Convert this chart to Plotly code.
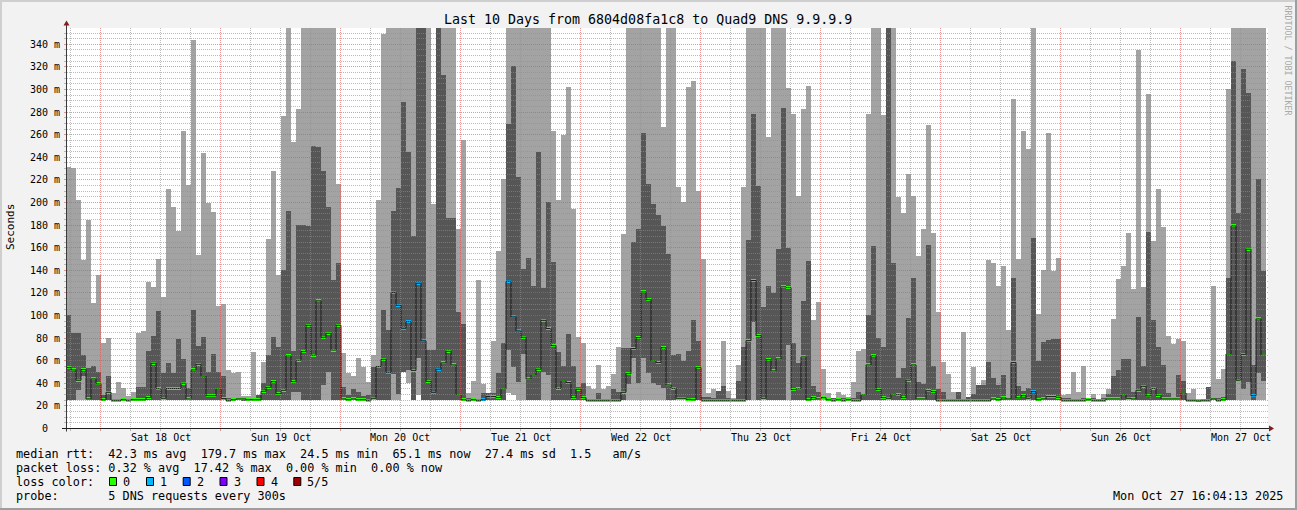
import plotly.graph_objects as go
from datetime import datetime, timedelta

# ---------------- data (hourly consolidated, 5 pings / 300 s) ----------------
START = datetime(2025, 10, 17, 17, 0)

max_rtt = [
    231.4, 229.9, 201.9, 148.8, 184.2, 110.4, 135.5, 75.0, 79.4, 30.7,
    41.0, 35.1, 28.6, 32.2, 83.8, 85.9, 129.6, 125.1, 149.6, 116.3,
    211.6, 196.0, 174.4, 263.0, 215.2, 343.5, 153.2, 243.8, 199.5, 191.5,
    108.0, 109.8, 51.4, 48.4, 49.9, 28.6, 28.6, 67.6, 28.6, 58.7,
    167.0, 227.5, 135.5, 276.2, 400, 253.5, 282.4, 400, 400, 400,
    400, 400, 400, 400, 216.0, 66.1, 49.0, 46.4, 62.3, 54.3,
    41.0, 64.6, 201.9, 348.8, 400, 400, 400, 400, 400, 400,
    400, 400, 400, 198.3, 400, 400, 400, 400, 176.2, 255.0,
    30.7, 41.6, 131.0, 39.0, 30.7, 77.0, 156.7, 220.5, 400, 400,
    400, 400, 400, 400, 400, 400, 400, 263.0, 201.9, 259.4,
    302.2, 193.9, 80.9, 75.6, 37.2, 34.3, 55.8, 34.3, 37.2, 47.8,
    71.4, 171.8, 400, 400, 400, 400, 400, 400, 400, 266.8,
    400, 400, 213.7, 200.4, 302.2, 307.2, 210.1, 149.6, 30.7, 34.6,
    30.7, 77.0, 32.8, 26.3, 55.8, 213.1, 400, 400, 400, 400,
    257.1, 400, 400, 400, 301.3, 277.7, 205.4, 282.4, 302.8, 95.6,
    111.3, 52.3, 30.7, 26.3, 32.2, 29.2, 27.8, 40.4, 68.2, 70.0,
    278.0, 400, 400, 277.1, 400, 400, 204.0, 190.7, 224.9, 205.4,
    152.6, 176.2, 268.3, 173.0, 103.0, 58.7, 47.8, 32.2, 28.6, 85.3,
    27.8, 53.7, 29.8, 42.5, 148.8, 146.4, 125.7, 143.7, 86.8, 291.3,
    149.6, 263.0, 247.0, 400, 100.9, 139.9, 260.9, 139.3, 150.8, 29.2,
    29.8, 49.9, 32.2, 55.2, 26.3, 29.8, 24.5, 29.8, 34.3, 96.5,
    132.0, 143.7, 173.0, 123.1, 334.1, 125.2, 295.7, 165.6, 211.6, 178.3,
    81.5, 74.4, 78.8, 77.0, 30.7, 34.6, 24.5, 24.5, 36.6, 126.0,
    43.4, 52.3, 300.1, 400, 400, 400, 400, 400, 400, 400,
]

upper_rtt = [
    100.1, 83.8, 83.8, 64.7, 52.9, 54.9, 49.9, 29.2, 46.1, 24.5,
    24.5, 24.5, 24.5, 24.5, 36.0, 36.0, 68.2, 81.5, 103.6, 48.4,
    57.3, 48.4, 78.8, 60.8, 35.7, 104.5, 72.6, 80.3, 49.9, 65.2,
    49.9, 46.4, 26.9, 26.9, 26.9, 25.7, 25.7, 26.9, 29.2, 39.6,
    64.6, 80.3, 72.0, 139.9, 192.4, 68.2, 179.7, 179.7, 179.1, 250.0,
    248.5, 227.8, 196.0, 131.0, 146.1, 36.6, 29.2, 34.6, 32.2, 28.6,
    29.2, 54.3, 54.3, 104.5, 86.8, 192.4, 212.2, 288.3, 244.7, 170.3,
    400, 400, 69.1, 69.1, 400, 312.5, 186.2, 186.2, 102.4, 92.1,
    26.9, 26.3, 24.5, 30.7, 30.7, 30.7, 49.0, 75.0, 269.2, 320.5,
    222.0, 140.8, 150.2, 125.7, 244.4, 123.7, 200.4, 146.7, 67.0, 55.2,
    82.9, 54.9, 36.6, 39.6, 24.5, 24.5, 30.7, 24.5, 24.5, 34.3,
    32.2, 70.6, 70.6, 165.0, 176.2, 260.9, 216.0, 198.3, 188.6, 178.9,
    154.1, 64.6, 65.5, 59.6, 68.2, 95.6, 77.0, 27.8, 27.8, 26.9,
    32.8, 37.2, 26.3, 24.5, 41.6, 71.4, 166.5, 278.0, 214.3, 106.9,
    125.7, 119.8, 158.5, 283.0, 159.7, 75.6, 57.3, 112.5, 147.9, 37.2,
    32.2, 24.5, 26.3, 26.3, 26.3, 26.3, 26.3, 26.3, 32.2, 29.2,
    100.1, 161.4, 79.4, 72.0, 400, 146.4, 44.6, 53.4, 97.7, 133.1,
    41.0, 38.7, 162.0, 55.2, 34.6, 32.2, 24.5, 24.5, 32.2, 24.5,
    27.0, 29.8, 38.1, 38.1, 58.7, 44.6, 38.1, 47.0, 24.5, 133.1,
    37.5, 32.8, 35.1, 168.5, 59.6, 76.5, 77.9, 78.8, 78.8, 26.9,
    26.3, 25.7, 24.5, 26.3, 24.5, 26.9, 24.5, 26.9, 29.8, 46.1,
    51.4, 61.1, 60.8, 32.2, 98.0, 54.9, 173.3, 95.6, 71.4, 55.8,
    30.7, 26.9, 47.0, 41.6, 24.5, 24.5, 24.5, 24.5, 36.6, 26.9,
    26.3, 27.8, 133.1, 324.9, 190.7, 317.8, 296.3, 55.8, 220.5, 139.0,
]

lower_rtt = [
    24.5, 24.5, 33.6, 46.1, 24.5, 24.5, 24.5, 24.5, 24.5, 24.5,
    24.5, 24.5, 24.5, 24.5, 24.5, 24.5, 24.5, 24.5, 24.5, 24.5,
    24.5, 24.5, 24.5, 24.5, 24.5, 24.5, 24.5, 24.5, 24.5, 24.5,
    24.5, 24.5, 24.5, 24.5, 24.5, 24.5, 24.5, 24.5, 24.5, 24.5,
    24.5, 24.5, 24.5, 24.5, 24.5, 32.0, 32.0, 24.5, 24.5, 24.5,
    24.5, 38.0, 50.0, 24.5, 24.5, 24.5, 24.5, 24.5, 24.5, 24.5,
    24.5, 24.5, 24.5, 24.5, 24.5, 47.8, 30.0, 50.0, 51.4, 24.5,
    61.7, 24.5, 24.5, 24.5, 24.5, 24.5, 24.5, 24.5, 24.5, 24.5,
    24.5, 24.5, 24.5, 24.5, 24.5, 24.5, 24.5, 24.5, 69.1, 54.3,
    41.0, 65.2, 24.5, 24.5, 24.5, 50.0, 47.0, 24.5, 24.5, 24.5,
    24.5, 24.5, 24.5, 24.5, 24.5, 24.5, 24.5, 24.5, 24.5, 24.5,
    24.5, 24.5, 38.7, 61.7, 39.6, 61.7, 48.4, 39.6, 38.0, 35.0,
    24.5, 24.5, 24.5, 24.5, 24.5, 24.5, 24.5, 24.5, 24.5, 24.5,
    24.5, 24.5, 24.5, 24.5, 24.5, 24.5, 24.5, 94.2, 24.5, 24.5,
    24.5, 24.5, 24.5, 24.5, 73.5, 24.5, 24.5, 24.5, 24.5, 24.5,
    24.5, 24.5, 24.5, 24.5, 24.5, 24.5, 24.5, 24.5, 24.5, 24.5,
    24.5, 24.5, 24.5, 24.5, 24.5, 24.5, 24.5, 24.5, 24.5, 24.5,
    24.5, 24.5, 24.5, 24.5, 24.5, 24.5, 24.5, 24.5, 24.5, 24.5,
    24.5, 24.5, 24.5, 24.5, 24.5, 24.5, 24.5, 24.5, 24.5, 24.5,
    24.5, 24.5, 24.5, 24.5, 24.5, 24.5, 24.5, 24.5, 24.5, 24.5,
    24.5, 24.5, 24.5, 24.5, 24.5, 24.5, 24.5, 24.5, 24.5, 24.5,
    24.5, 24.5, 24.5, 24.5, 24.5, 24.5, 24.5, 24.5, 24.5, 24.5,
    24.5, 24.5, 24.5, 24.5, 24.5, 24.5, 24.5, 24.5, 24.5, 24.5,
    24.5, 24.5, 24.5, 24.5, 41.6, 34.3, 41.0, 24.5, 49.0, 41.6,
]

min_rtt = [
    24.5, 24.5, 24.5, 24.5, 24.5, 24.5, 24.5, 24.5, 24.5, 24.5,
    24.5, 24.5, 24.5, 24.5, 24.5, 24.5, 24.5, 24.5, 24.5, 24.5,
    24.5, 24.5, 24.5, 24.5, 24.5, 24.5, 24.5, 24.5, 24.5, 24.5,
    24.5, 24.5, 24.5, 24.5, 24.5, 24.5, 24.5, 24.5, 24.5, 24.5,
    24.5, 24.5, 24.5, 24.5, 24.5, 24.5, 24.5, 24.5, 24.5, 24.5,
    24.5, 24.5, 24.5, 24.5, 24.5, 24.5, 24.5, 24.5, 24.5, 24.5,
    24.5, 24.5, 24.5, 24.5, 24.5, 24.5, 24.5, 50.0, 39.5, 24.5,
    29.2, 24.5, 24.5, 24.5, 24.5, 24.5, 24.5, 24.5, 24.5, 24.5,
    24.5, 24.5, 24.5, 24.5, 24.5, 24.5, 24.5, 24.5, 30.7, 29.5,
    24.5, 24.5, 24.5, 24.5, 24.5, 24.5, 24.5, 24.5, 24.5, 24.5,
    24.5, 24.5, 24.5, 24.5, 24.5, 24.5, 24.5, 24.5, 24.5, 24.5,
    24.5, 24.5, 24.5, 24.5, 24.5, 24.5, 24.5, 24.5, 24.5, 24.5,
    24.5, 24.5, 24.5, 24.5, 24.5, 24.5, 24.5, 24.5, 24.5, 24.5,
    24.5, 24.5, 24.5, 24.5, 24.5, 24.5, 24.5, 24.5, 24.5, 24.5,
    24.5, 24.5, 24.5, 24.5, 24.5, 24.5, 24.5, 24.5, 24.5, 24.5,
    24.5, 24.5, 24.5, 24.5, 24.5, 24.5, 24.5, 24.5, 24.5, 24.5,
    24.5, 24.5, 24.5, 24.5, 24.5, 24.5, 24.5, 24.5, 24.5, 24.5,
    24.5, 24.5, 24.5, 24.5, 24.5, 24.5, 24.5, 24.5, 24.5, 24.5,
    24.5, 24.5, 24.5, 24.5, 24.5, 24.5, 24.5, 24.5, 24.5, 24.5,
    24.5, 24.5, 24.5, 24.5, 24.5, 24.5, 24.5, 24.5, 24.5, 24.5,
    24.5, 24.5, 24.5, 24.5, 24.5, 24.5, 24.5, 24.5, 24.5, 24.5,
    24.5, 24.5, 24.5, 24.5, 24.5, 24.5, 24.5, 24.5, 24.5, 24.5,
    24.5, 24.5, 24.5, 24.5, 24.5, 24.5, 24.5, 24.5, 24.5, 24.5,
    24.5, 24.5, 24.5, 24.5, 24.5, 24.5, 24.5, 24.5, 24.5, 24.5,
]

median_rtt = [
    53.4, 51.4, 42.3, 51.7, 25.7, 43.4, 39.0, 25.0, 31.6, 24.5,
    24.5, 25.0, 24.5, 25.0, 25.0, 25.0, 27.0, 57.3, 34.8, 26.3,
    35.0, 35.0, 35.0, 39.6, 25.7, 51.4, 56.4, 46.0, 28.6, 28.6,
    34.5, 26.0, 24.5, 25.0, 25.7, 25.7, 25.0, 25.0, 25.0, 32.5,
    36.0, 41.0, 30.4, 33.4, 63.8, 41.0, 60.0, 67.6, 90.9, 64.4,
    112.5, 80.3, 83.8, 69.0, 90.9, 25.7, 25.0, 25.7, 25.0, 25.0,
    24.5, 26.3, 54.3, 60.8, 49.3, 120.0, 108.6, 88.3, 94.2, 51.0,
    128.1, 77.1, 41.3, 31.6, 52.0, 57.6, 67.9, 55.8, 29.2, 25.0,
    24.5, 25.0, 24.5, 25.0, 27.8, 27.8, 26.9, 34.5, 129.9, 98.3,
    85.9, 80.3, 43.4, 46.9, 52.0, 95.3, 88.0, 72.9, 35.1, 41.6,
    40.2, 26.9, 34.3, 26.9, 24.5, 24.5, 24.5, 24.5, 24.5, 24.5,
    24.5, 31.6, 48.1, 70.3, 80.0, 120.4, 113.6, 59.3, 57.9, 71.1,
    38.1, 35.1, 26.3, 26.3, 25.4, 25.0, 53.4, 24.5, 24.5, 24.5,
    24.5, 24.5, 24.5, 24.5, 24.5, 24.5, 77.3, 130.5, 81.8, 26.3,
    60.5, 50.5, 61.1, 124.9, 124.3, 34.0, 34.6, 62.9, 25.0, 26.9,
    25.7, 26.9, 25.0, 24.5, 25.0, 24.5, 25.0, 24.5, 24.5, 29.2,
    55.8, 64.0, 34.0, 26.9, 26.3, 30.1, 29.5, 26.9, 42.3, 55.8,
    25.7, 25.7, 33.0, 32.2, 24.5, 24.5, 24.5, 24.5, 24.5, 24.5,
    24.5, 24.5, 24.5, 24.5, 24.5, 25.7, 25.0, 26.6, 25.7, 57.9,
    26.6, 28.6, 26.3, 32.2, 25.0, 25.7, 27.8, 27.8, 27.2, 24.5,
    24.5, 24.5, 24.5, 24.5, 25.0, 24.5, 24.5, 24.5, 25.7, 25.7,
    25.7, 29.2, 26.3, 25.7, 33.4, 36.9, 28.4, 35.1, 28.9, 25.7,
    25.7, 25.7, 25.7, 31.0, 24.5, 24.5, 24.0, 24.5, 24.5, 25.7,
    24.5, 25.0, 65.5, 178.9, 42.3, 65.2, 158.2, 28.6, 96.5, 64.6,
]

loss_count = [
    0, 0, 0, 0, 0, 0, 0, 0, 0, 0, 0, 0, 0, 0, 0, 0, 0, 0, 0, 0,
    0, 0, 0, 0, 0, 0, 0, 0, 0, 0, 0, 0, 0, 0, 0, 0, 0, 0, 0, 0,
    0, 0, 0, 0, 0, 0, 0, 0, 0, 0, 0, 0, 0, 0, 0, 0, 0, 0, 0, 0,
    0, 0, 0, 0, 1, 1, 1, 1, 1, 0, 1, 1, 0, 1, 1, 0, 0, 0, 0, 0,
    0, 0, 0, 1, 1, 0, 0, 0, 1, 1, 1, 0, 0, 0, 0, 0, 0, 0, 0, 0,
    0, 0, 0, 0, 0, 0, 0, 0, 0, 0, 0, 0, 0, 0, 0, 0, 0, 0, 0, 0,
    0, 0, 0, 0, 0, 0, 0, 0, 0, 0, 0, 0, 0, 0, 0, 0, 0, 0, 0, 0,
    0, 0, 0, 0, 0, 0, 0, 0, 0, 0, 0, 0, 0, 0, 0, 0, 0, 0, 0, 0,
    0, 0, 0, 0, 0, 0, 0, 0, 0, 0, 0, 0, 0, 0, 0, 0, 0, 0, 0, 0,
    0, 0, 0, 0, 0, 0, 0, 0, 0, 0, 0, 0, 0, 1, 0, 0, 0, 0, 0, 0,
    0, 0, 0, 0, 0, 0, 0, 0, 0, 0, 0, 0, 0, 0, 0, 0, 0, 0, 0, 0,
    0, 0, 0, 0, 0, 0, 0, 0, 0, 0, 0, 0, 0, 0, 0, 0, 0, 1, 0, 0,
]

day_labels = ["Sat 18 Oct", "Sun 19 Oct", "Mon 20 Oct", "Tue 21 Oct", "Wed 22 Oct",
              "Thu 23 Oct", "Fri 24 Oct", "Sat 25 Oct", "Sun 26 Oct", "Mon 27 Oct"]
y_tick_values = [0, 20, 40, 60, 80, 100, 120, 140, 160, 180, 200, 220, 240, 260, 280, 300, 320, 340]
y_tick_labels = ["0", "20 m", "40 m", "60 m", "80 m", "100 m", "120 m", "140 m", "160 m",
                 "180 m", "200 m", "220 m", "240 m", "260 m", "280 m", "300 m", "320 m", "340 m"]
loss_labels = ["0", "1", "2", "3", "4", "5/5"]
loss_colors = ["#26ff00", "#00b8ff", "#0059ff", "#7e00ff", "#ff0000", "#a10000"]

title_text = "Last 10 Days from 6804d08fa1c8 to Quad9 DNS 9.9.9.9"
legend_lines = [
    "median rtt:  42.3 ms avg  179.7 ms max  24.5 ms min  65.1 ms now  27.4 ms sd  1.5   am/s",
    "packet loss: 0.32 % avg  17.42 % max  0.00 % min  0.00 % now",
    "loss color:",
    "probe:       5 DNS requests every 300s",
]
stamp = "Mon Oct 27 16:04:13 2025"

# ---------------- geometry / style ----------------
W, H = 1297, 510
L, R, T, B = 66, 1268, 28, 428
YMAX = 354.0
HOURS_SPAN = (R - L) / 5.0
LIGHT, DARK = "#a3a3a3", "#565656"
MONO = "DejaVu Sans Mono"
GRID = "rgba(143,143,143,0.6)"
MGRID = "rgba(222,79,79,0.6)"
ARROW = "#801f1f"


def px(x):
    return (x - L) / (R - L)


def py(y):
    return (B - y) / (B - T)


def ypix(v):
    return B - v * (B - T) / YMAX


n = len(median_rtt)
starts = [START + timedelta(hours=i) for i in range(n)]
centers = [s + timedelta(minutes=30) for s in starts]
edges = starts + [starts[-1] + timedelta(hours=1)]
BW = 3600000

fig = go.Figure()
fig.add_bar(x=centers, y=[a - b for a, b in zip(max_rtt, min_rtt)], base=min_rtt, width=BW,
            marker=dict(color=LIGHT, line=dict(width=0)), hoverinfo="skip")
fig.add_bar(x=centers, y=[max(a - b, 0) for a, b in zip(upper_rtt, lower_rtt)], base=lower_rtt, width=BW,
            marker=dict(color=DARK, line=dict(width=0)), hoverinfo="skip")
fig.add_scatter(x=edges, y=median_rtt + [median_rtt[-1]], mode="lines",
                line=dict(color="#1a1a1a", width=1, shape="hv"), hoverinfo="skip")
MED_T = 2.6
fig.add_bar(x=centers, y=[MED_T] * n, base=[m - MED_T / 2 for m in median_rtt], width=BW,
            marker=dict(color=[loss_colors[c] for c in loss_count], line=dict(width=0)), hoverinfo="skip")

shapes = []


def line(x0, y0, x1, y1, color, width=1, dash=None):
    d = dict(type="line", xref="paper", yref="paper", x0=px(x0), y0=py(y0), x1=px(x1), y1=py(y1),
             line=dict(color=color, width=width), layer="above")
    if dash:
        d["line"]["dash"] = dash
    shapes.append(d)


# horizontal grid every 5 m, major every 20 m (dots aligned on whole pixels)
v = 5
while v < YMAX:
    yc = round(ypix(v)) + 0.5
    col = MGRID if v % 20 == 0 else GRID
    line(L + 1, yc, R, yc, col, 1, "1px,1px")
    line(L - 2, yc, L, yc, col, 1)
    v += 5

# vertical grid every 6 h, major at midnight
h = 1
while h < HOURS_SPAN:
    xc = L + 5 * h - 0.5
    t = START + timedelta(hours=h)
    col = MGRID if t.hour == 0 else GRID
    line(xc, T, xc, B, col, 1, "1px,1px")
    line(xc, B + 1, xc, B + 3, col, 1)
    h += 6

# axes
line(L + 0.5, B + 3.5, L + 0.5, 24.5, "#3a3a3a", 1)
line(L - 4, B + 0.5, R + 1, B + 0.5, "#1f1f1f", 1)
shapes.append(dict(type="path", xref="paper", yref="paper", layer="above",
                   path=f"M {px(L + 0.5)} {py(20.5)} L {px(L - 2.5)} {py(25.5)} L {px(L + 3.5)} {py(25.5)} Z",
                   fillcolor=ARROW, line=dict(width=0)))
shapes.append(dict(type="path", xref="paper", yref="paper", layer="above",
                   path=f"M {px(R + 6)} {py(B + 0.5)} L {px(R + 1)} {py(B - 2.5)} L {px(R + 1)} {py(B + 3.5)} Z",
                   fillcolor=ARROW, line=dict(width=0)))


# frame
def rect(x0, y0, x1, y1, color, border=None):
    d = dict(type="rect", xref="paper", yref="paper", x0=px(x0), y0=py(y0), x1=px(x1), y1=py(y1),
             fillcolor=color, line=dict(width=0), layer="above")
    if border:
        d["line"] = dict(width=1, color=border)
    shapes.append(d)


rect(0, 0, W, 2, "#cfcfcf")
rect(0, 0, 2, H, "#cfcfcf")
rect(0, H - 2, W, H, "#9e9e9e")
rect(W - 2, 0, W, H, "#9e9e9e")

ann = []


def text(x, y, s, size, anchor="left", color="#000000", angle=0, yanchor="middle"):
    ann.append(dict(x=px(x), y=py(y), xref="paper", yref="paper", text=s.replace(" ", "\u00a0"),
                    showarrow=False, xanchor=anchor, yanchor=yanchor, textangle=angle,
                    font=dict(family=MONO, size=size, color=color), borderpad=0, borderwidth=0))


text(647.5, 19, title_text, 13.3, "center")
text(10, 227, "Seconds", 11, "center", angle=-90)
text(1287.5, 60, "RRDTOOL / TOBI OETIKER", 8.3, "center", color="#a8a8a8", angle=90)

for val, lab in zip(y_tick_values, y_tick_labels):
    yc = round(ypix(val)) + 0.5 if val > 0 else B + 0.5
    if lab == "0":
        text(48.2, yc, lab, 10, "right")
    else:
        text(60.4, yc, lab, 10, "right")

for i, lab in enumerate(day_labels):
    noon = START + timedelta(hours=7 + 24 * i + 12)
    hh = (noon - START).total_seconds() / 3600
    text(L + 5 * hh - 0.5, 437.5, lab, 10, "center")

legend_y = [454, 468, 482, 496]
for s, yy in zip(legend_lines, legend_y):
    text(15.8, yy, s, 11.8, "left")

sq_x = [109, 146, 182.7, 219.5, 256.5, 293.3]
lab_x = [123.3, 160.2, 197.0, 233.8, 270.6, 307.4]
for c, lab, sx, lx in zip(loss_colors, loss_labels, sq_x, lab_x):
    rect(sx + 0.5, 477.5, sx + 7.5, 485.5, c, border="#000000")
    text(lx, 482, lab, 11.8, "left")

text(1112.8, 496, stamp, 11.8, "left")

fig.update_layout(
    width=W, height=H,
    margin=dict(l=L, r=W - R, t=T, b=H - B, pad=0),
    paper_bgcolor="#f2f2f2", plot_bgcolor="#ffffff",
    barmode="overlay", bargap=0, showlegend=False,
    xaxis=dict(type="date", range=[START, START + timedelta(hours=HOURS_SPAN)],
               showgrid=False, zeroline=False, showticklabels=False, ticks="", showline=False, fixedrange=True),
    yaxis=dict(range=[0, YMAX], showgrid=False, zeroline=False, showticklabels=False, ticks="",
               showline=False, fixedrange=True),
    shapes=shapes, annotations=ann,
    font=dict(family=MONO),
)

fig.write_html("out.html", config={"displayModeBar": False},
               post_script="document.body.style.margin='0px';document.body.style.overflow='hidden';")
